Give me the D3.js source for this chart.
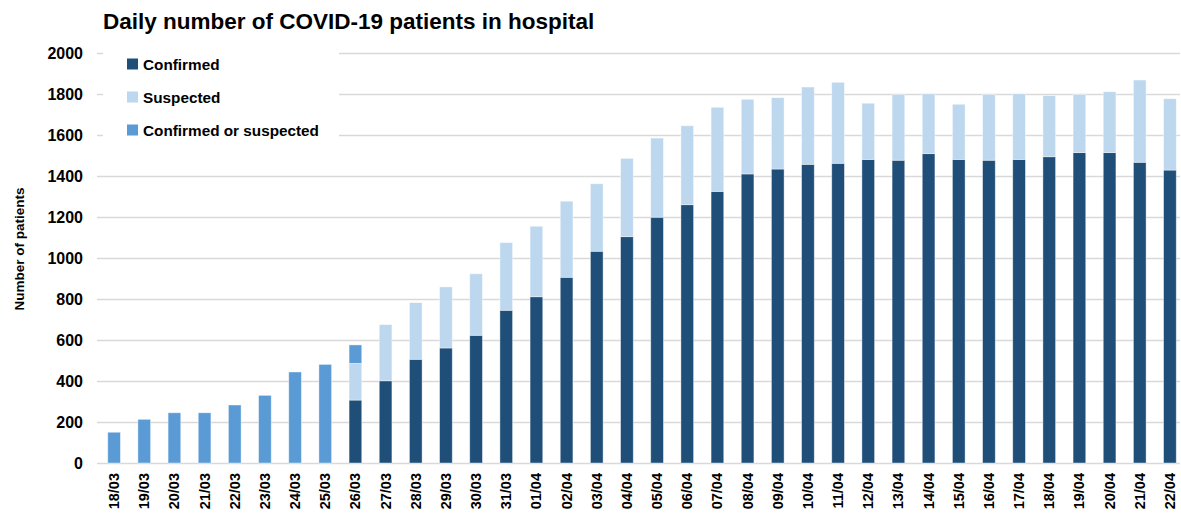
<!DOCTYPE html>
<html lang="en">
    <head>
        <meta charset="utf-8">
        <title>Daily number of COVID-19 patients in hospital</title>
        <script src="https://d3js.org/d3.v7.min.js"></script>
        <style type="text/css">
         body { margin: 0; background: #fff; }
         text { font-family: "Liberation Sans", Arial, sans-serif; font-weight: bold; fill: #000; }
        </style>
    </head>
    <body>
        <script>
         // Data
         var dates = ["18/03","19/03","20/03","21/03","22/03","23/03","24/03","25/03","26/03","27/03",
                      "28/03","29/03","30/03","31/03","01/04","02/04","03/04","04/04","05/04","06/04",
                      "07/04","08/04","09/04","10/04","11/04","12/04","13/04","14/04","15/04","16/04",
                      "17/04","18/04","19/04","20/04","21/04","22/04"];
         var confirmed = [0,0,0,0,0,0,0,0,307,401,
                          506,561,623,745,811,906,1033,1104,1199,1260,
                          1325,1410,1434,1457,1462,1481,1477,1509,1481,1477,
                          1481,1494,1514,1514,1467,1429];
         var suspected = [0,0,0,0,0,0,0,0,179,274,
                          276,298,300,330,344,371,329,382,386,385,
                          410,364,348,377,395,274,321,292,269,321,
                          320,298,284,297,401,348];
         var confOrSusp = [150,213,245,245,283,330,444,481,90,0,
                           0,0,0,0,0,0,0,0,0,0,
                           0,0,0,0,0,0,0,0,0,0,
                           0,0,0,0,0,0];
         var seriesNames = ["Confirmed", "Suspected", "Confirmed or suspected"];
         var seriesColors = ["#1F4E79", "#BDD7EE", "#5B9BD5"];
         var yTicks = [0,200,400,600,800,1000,1200,1400,1600,1800,2000];

         var width = 1181, height = 516;
         var plotLeft = 97, plotRight = 1181, plotTop = 53, plotBottom = 463;

         var svg = d3.select("body").append("svg")
                     .attr("width", width)
                     .attr("height", height);

         var x = d3.scaleBand()
                   .domain(dates)
                   .range([99, 1185])
                   .paddingInner(0.58)
                   .paddingOuter(0.29);

         var y = d3.scaleLinear()
                   .domain([0, 2000])
                   .range([plotBottom, plotTop]);

         // gridlines
         svg.append("g")
            .selectAll("line")
            .data(yTicks)
            .enter().append("line")
            .attr("x1", plotLeft).attr("x2", plotRight - 1)
            .attr("y1", function(d) { return Math.round(y(d)) + 0.5; })
            .attr("y2", function(d) { return Math.round(y(d)) + 0.5; })
            .attr("stroke", "#D9D9D9")
            .attr("stroke-width", 1.3);

         // y tick labels
         svg.append("g")
            .selectAll("text")
            .data(yTicks)
            .enter().append("text")
            .attr("x", 83)
            .attr("y", function(d) { return y(d); })
            .attr("dy", "0.35em")
            .attr("text-anchor", "end")
            .style("font-size", "16px")
            .text(function(d) { return d; });

         // stacked bars
         var rows = dates.map(function(d, i) {
             return { date: d, c: confirmed[i], s: suspected[i], cs: confOrSusp[i] };
         });
         var stack = d3.stack().keys(["c", "s", "cs"]);
         var layers = stack(rows);

         svg.append("g")
            .selectAll("g")
            .data(layers)
            .enter().append("g")
            .attr("fill", function(d, i) { return seriesColors[i]; })
            .selectAll("rect")
            .data(function(d) { return d.filter(function(p) { return p[1] > p[0]; }); })
            .enter().append("rect")
            .attr("x", function(d) { return x(d.data.date); })
            .attr("width", x.bandwidth())
            .attr("y", function(d) { return y(d[1]); })
            .attr("height", function(d) { return y(d[0]) - y(d[1]); })
            .attr("stroke", "#ffffff")
            .attr("stroke-opacity", 0.5)
            .attr("stroke-width", 0.8);

         // x labels
         svg.append("g")
            .selectAll("text")
            .data(dates)
            .enter().append("text")
            .attr("transform", function(d) {
                return "translate(" + (x(d) + x.bandwidth() / 2) + ",473) rotate(-90)";
            })
            .attr("dy", "0.35em")
            .attr("text-anchor", "end")
            .style("font-size", "14.5px")
            .text(function(d) { return d; });

         // legend (white box over gridlines)
         svg.append("rect")
            .attr("x", 103).attr("y", 50)
            .attr("width", 236).attr("height", 88)
            .attr("fill", "#fff");

         var legend = svg.append("g")
                         .selectAll("g")
                         .data(seriesNames)
                         .enter().append("g")
                         .attr("transform", function(d, i) { return "translate(127," + [64, 97, 130][i] + ")"; });
         legend.append("rect")
               .attr("x", 0).attr("y", -5.5)
               .attr("width", 11).attr("height", 11)
               .attr("fill", function(d, i) { return seriesColors[i]; });
         legend.append("text")
               .attr("x", 16)
               .attr("dy", "0.36em")
               .style("font-size", "15.3px")
               .text(function(d) { return d; });

         // title
         svg.append("text")
            .attr("x", 103).attr("y", 29)
            .style("font-size", "22.5px")
            .text("Daily number of COVID-19 patients in hospital");

         // y axis title
         svg.append("text")
            .attr("transform", "translate(24,249) rotate(-90)")
            .attr("text-anchor", "middle")
            .style("font-size", "13.5px")
            .text("Number of patients");
        </script>
    </body>
</html>
